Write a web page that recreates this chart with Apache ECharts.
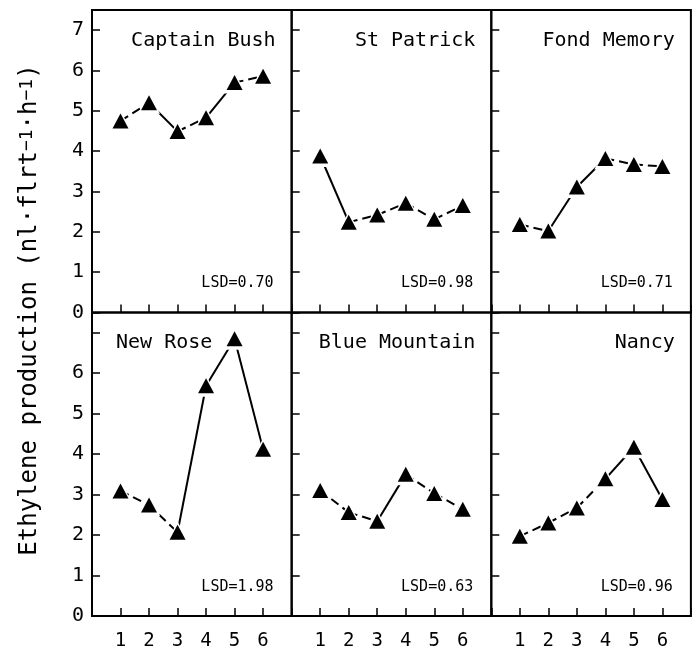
<!DOCTYPE html>
<html><head><meta charset="utf-8">
<script src="https://cdn.jsdelivr.net/npm/echarts@6/dist/echarts.min.js"></script>
<style>html,body{margin:0;padding:0;background:#fff}#c{width:699px;height:652px}</style>
</head><body><div id="c"></div>
<script>
// ---- data ----
const cultivars = ['Captain Bush', 'St Patrick', 'Fond Memory', 'New Rose', 'Blue Mountain', 'Nancy'];
const days = [1, 2, 3, 4, 5, 6];
const captainBush = [4.75, 5.20, 4.49, 4.83, 5.70, 5.86];
const stPatrick   = [3.88, 2.24, 2.42, 2.71, 2.31, 2.65];
const fondMemory  = [2.18, 2.02, 3.11, 3.82, 3.67, 3.62];
const newRose     = [3.09, 2.74, 2.07, 5.69, 6.85, 4.12];
const blueMountain= [3.10, 2.56, 2.34, 3.50, 3.03, 2.64];
const nancy       = [1.97, 2.30, 2.67, 3.39, 4.17, 2.88];
const lsdLabels = ['LSD=0.70', 'LSD=0.98', 'LSD=0.71', 'LSD=1.98', 'LSD=0.63', 'LSD=0.96'];
// line style of each segment between successive days
const segCaptainBush = ['dashed', 'solid', 'dashed', 'solid', 'dashed'];
const segStPatrick   = ['solid', 'dashed', 'dashed', 'dashed', 'dashed'];
const segFondMemory  = ['dashed', 'solid', 'solid', 'dashed', 'dashed'];
const segNewRose     = ['dashed', 'dashed', 'solid', 'solid', 'solid'];
const segBlueMountain= ['dashed', 'dashed', 'solid', 'dashed', 'dashed'];
const segNancy       = ['dashed', 'dashed', 'dashed', 'solid', 'solid'];
const yTickLabelsTop = [0, 1, 2, 3, 4, 5, 6, 7];
const yTickLabelsBottom = [0, 1, 2, 3, 4, 5, 6];
const xTickLabels = [1, 2, 3, 4, 5, 6];
const yAxisTitle = 'Ethylene production (nl·flrt{s|\u22121}·h{s|\u22121})';

const seriesValues = [captainBush, stPatrick, fondMemory, newRose, blueMountain, nancy];
const segStyles = [segCaptainBush, segStPatrick, segFondMemory, segNewRose, segBlueMountain, segNancy];
const titleAlign = ['right', 'right', 'right', 'left', 'right', 'right'];

// ---- layout ----
const FONT = "'DejaVu Sans Mono', monospace";
const colLeft = [92, 291.7, 491.3];
const colW = 199.6;
const rowTop = [10, 312.5];
const rowH = [302.5, 303.5];

const grids = [], xAxes = [], yAxes = [], series = [], graphics = [];
for (let i = 0; i < 6; i++) {
  const r = Math.floor(i / 3), c = i % 3;
  grids.push({ left: colLeft[c], top: rowTop[r], width: colW, height: rowH[r],
    show: true, borderColor: '#000', borderWidth: 2, backgroundColor: 'transparent', containLabel: false });
  xAxes.push({ type: 'value', gridIndex: i, min: 0, max: 7, interval: 1,
    axisLine: { show: false }, splitLine: { show: false },
    axisTick: { show: true, inside: true, length: 8, lineStyle: { color: '#000', width: 1.5 } },
    axisLabel: { show: r === 1, margin: 16, color: '#000', fontFamily: FONT, fontSize: 19,
      formatter: v => xTickLabels.includes(v) ? String(v) : '' } });
  const labs = r === 0 ? yTickLabelsTop : yTickLabelsBottom;
  yAxes.push({ type: 'value', gridIndex: i, min: 0, max: 7.5, interval: 1,
    axisLine: { show: false }, splitLine: { show: false },
    axisTick: { show: true, inside: true, length: 8, lineStyle: { color: '#000', width: 1.5 } },
    axisLabel: { show: c === 0, margin: 8, color: '#000', fontFamily: FONT, fontSize: 20,
      showMaxLabel: true, formatter: v => labs.includes(v) ? String(v) : '' } });

  const vals = seriesValues[i];
  const pts = days.map((d, k) => [d, vals[k]]);
  segStyles[i].forEach((st, k) => {
    series.push({ type: 'line', xAxisIndex: i, yAxisIndex: i, silent: true, symbol: 'none', z: 2,
      data: [pts[k], pts[k + 1]],
      lineStyle: { color: '#000', width: 2, opacity: 1, type: st === 'dashed' ? [9, 5] : 'solid' } });
  });
  series.push({ type: 'scatter', xAxisIndex: i, yAxisIndex: i, silent: true, z: 3,
    symbol: 'triangle', symbolSize: 22, itemStyle: { color: '#fff', opacity: 1 }, data: pts });
  series.push({ type: 'scatter', xAxisIndex: i, yAxisIndex: i, silent: true, z: 4,
    symbol: 'triangle', symbolSize: [16, 15], itemStyle: { color: '#000', opacity: 1 }, data: pts });

  const right = colLeft[c] + colW;
  const titleY = rowTop[r] + 30.5;
  graphics.push({ type: 'text', z: 10,
    x: titleAlign[i] === 'right' ? right - 16 : colLeft[c] + 24, y: titleY,
    style: { text: cultivars[i], fill: '#000', font: '20px ' + FONT,
      textAlign: titleAlign[i], textVerticalAlign: 'middle' } });
  graphics.push({ type: 'text', z: 10,
    x: right - 18, y: rowTop[r] + rowH[r] - 29,
    style: { text: lsdLabels[i], fill: '#000', font: '15px ' + FONT,
      textAlign: 'right', textVerticalAlign: 'middle' } });
}

graphics.push({ type: 'text', z: 10, x: 30, y: 310, rotation: Math.PI / 2,
  style: { text: yAxisTitle, fill: '#000', font: '24px ' + FONT, align: 'center', verticalAlign: 'middle',
    textAlign: 'center', textVerticalAlign: 'middle',
    rich: { s: { fontSize: 18, fontFamily: FONT, verticalAlign: 'top', fill: '#000' } } } });

const chart = echarts.init(document.getElementById('c'), null, { renderer: 'canvas' });
chart.setOption({
  animation: false,
  backgroundColor: '#fff',
  grid: grids, xAxis: xAxes, yAxis: yAxes, series: series, graphic: graphics
});
</script></body></html>
